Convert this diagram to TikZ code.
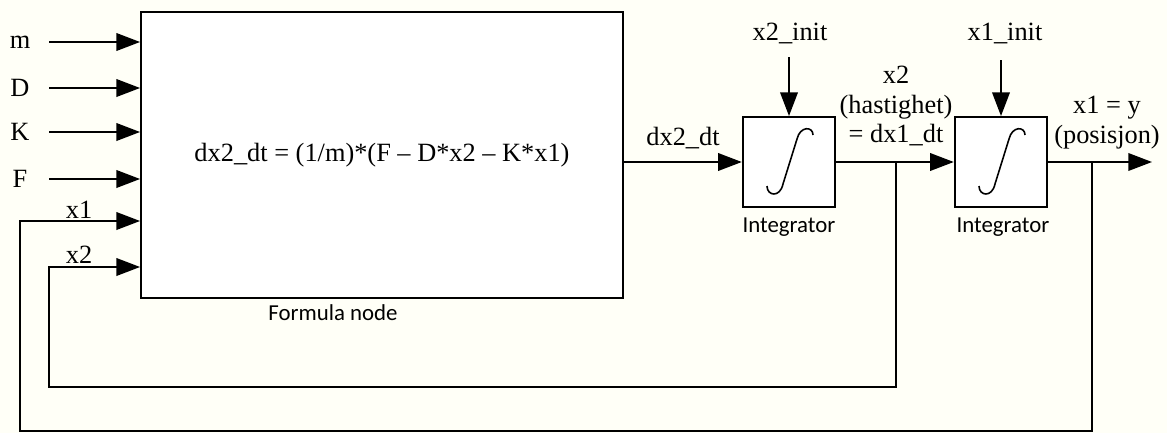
\documentclass[tikz,border=0pt]{standalone}
\usepackage{fontspec}
\setmainfont{Liberation Serif}
\newfontfamily\capfont{Carlito}
\usetikzlibrary{arrows.meta,positioning}
\definecolor{paper}{RGB}{255,255,247}

\begin{document}
\begin{tikzpicture}[x=0.02cm,y=-0.02cm,
    wire/.style={line width=1.1pt},
    sig/.style={wire, -{Triangle[length=13.5pt,width=10pt]}},
    formula/.style={rectangle, draw, fill=white, line width=1.1pt, minimum width=9.64cm, minimum height=5.72cm, inner sep=0pt, font=\fontsize{15}{17}\selectfont},
    intbox/.style={rectangle, draw, fill=white, line width=1.1pt, minimum width=1.85cm, minimum height=1.8cm},
    txt/.style={font=\fontsize{15}{17}\selectfont, inner sep=0pt, align=center},
    blocklabel/.style={font=\capfont\fontsize{13}{15}\selectfont, inner sep=0pt}
]

% paper
\fill[paper] (0,0) rectangle (1167,433);
\useasboundingbox (0,0) rectangle (1167,433);

% Formula node
\node[formula] (fnode) at (382,155) {dx2\_dt = (1/m)*(F -- D*x2 -- K*x1)};
\node[blocklabel] (fcap) at (333,313) {Formula node};

% Inputs
\foreach \name/\yy in {m/42, D/88, K/132, F/179} {
  \node[txt] (l\name) at (20,\yy) {\name};
  \coordinate (s\name) at (49,\yy);
  \draw[sig] (s\name) -- (s\name -| fnode.west);
}
\node[txt] (lx1) at (79,210) {x1};
\node[txt] (lx2) at (79,255) {x2};

% Integrators
\node[intbox] (int1) at (789,162) {};
\node[intbox] (int2) at (1001,162) {};
\node[blocklabel] (cap1) at (789,227) {Integrator};
\node[blocklabel] (cap2) at (1003,227) {Integrator};
\foreach \n in {int1,int2}
  \draw[line width=0.9pt, shift={(\n.center)}] (-22,24) .. controls (-22,34) and (-9,36) .. (-6,22) -- (8,-23) .. controls (11,-36) and (24,-36) .. (24,-27);

% Initial values
\node[txt] (x2init) at (790,33) {x2\_init};
\node[txt] (x1init) at (1005,33) {x1\_init};
\coordinate (i2) at (int1.north |- 0,57);
\coordinate (i1) at (int2.north |- 0,60);
\draw[sig] (i2) -- (int1.north);
\draw[sig] (i1) -- (int2.north);

% Signal flow
\draw[sig] (fnode.east |- int1) -- (int1.west);
\node[txt] (ldx2) at (683,138) {dx2\_dt};
\draw[sig] (int1.east) -- (int2.west);
\node[txt] (lvel) at (896,106) {x2\\(hastighet)\\= dx1\_dt};
\coordinate (yout) at (1152,162);
\draw[sig] (int2.east) -- (yout);
\node[txt] (lpos) at (1107,123) {x1 = y\\(posisjon)};

% Feedback
\coordinate (b2) at (896,162);
\coordinate (fb2) at (49,387);
\coordinate (sx2) at (49,267);
\draw[sig] (b2) |- (fb2) -- (sx2) -- (sx2 -| fnode.west);
\coordinate (b1) at (1092,162);
\coordinate (fb1) at (20,431);
\coordinate (sx1) at (20,221);
\draw[sig] (b1) |- (fb1) -- (sx1) -- (sx1 -| fnode.west);

\end{tikzpicture}
\end{document}
